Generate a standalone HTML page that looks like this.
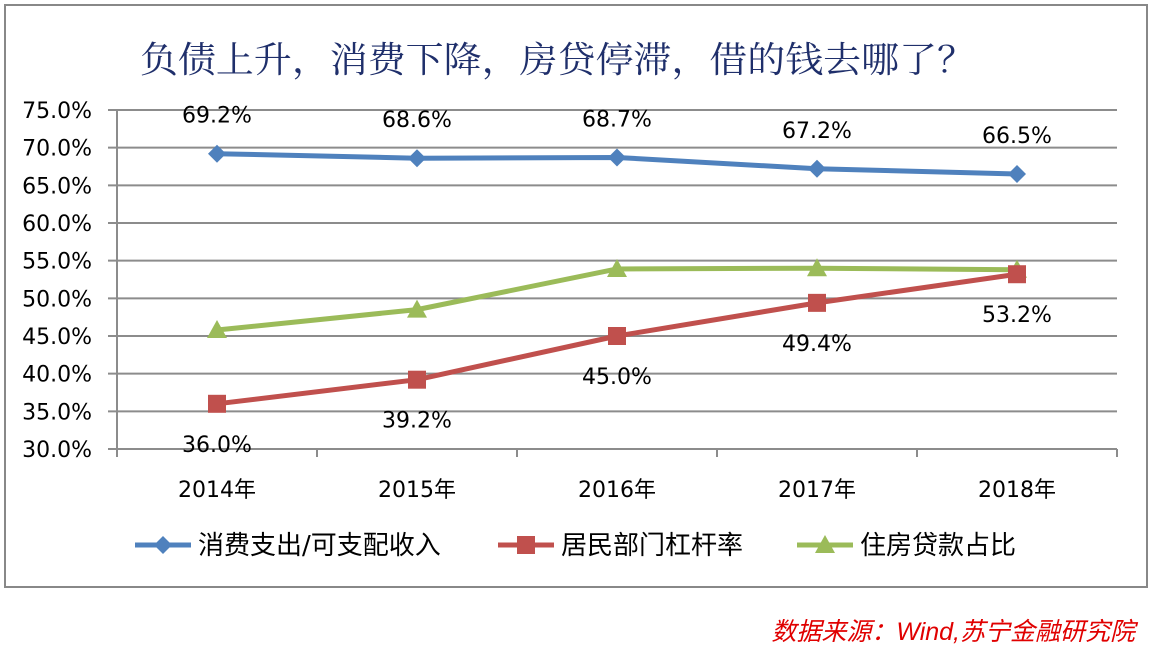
<!DOCTYPE html>
<html><head><meta charset="utf-8"><style>
html,body{margin:0;padding:0;background:#fff;}
svg{display:block;}
</style></head><body>
<svg id="chart" width="1152" height="650" xmlns="http://www.w3.org/2000/svg" font-family="'DejaVu Sans','Noto Sans CJK SC',sans-serif">
<rect x="5" y="5" width="1142" height="582" fill="#fff" stroke="#888" stroke-width="2"/>
<text x="140" y="72" font-family="'Noto Serif CJK SC',serif" font-size="36" fill="#1f2f6b" textLength="835" lengthAdjust="spacingAndGlyphs">负债上升，消费下降，房贷停滞，借的钱去哪了？</text>
<g id="grid"></g><g id="axes"></g><g id="series"></g><g id="legend"></g>
<text x="1135" y="640" text-anchor="end" font-size="25" font-style="italic" fill="#e00000" font-family="'Liberation Sans','Noto Sans CJK SC',sans-serif">数据来源：Wind,苏宁金融研究院</text>
</svg>
<script>
const categories=["2014年","2015年","2016年","2017年","2018年"];
const consumption=[69.2,68.6,68.7,67.2,66.5];
const leverage=[36.0,39.2,45.0,49.4,53.2];
const mortgage=[45.8,48.5,53.9,54.0,53.8];
const yTicks=[30,35,40,45,50,55,60,65,70,75];
const NS="http://www.w3.org/2000/svg";
const x0=117,bw=200,yTop=110,yBot=449,vMin=30,vMax=75;
function X(i){return x0+bw*(i+0.5);}
function Y(v){return yBot-(v-vMin)/(vMax-vMin)*(yBot-yTop);}
function mk(p,tag,at){const e=document.createElementNS(NS,tag);for(const k in at)e.setAttribute(k,at[k]);p.appendChild(e);return e;}
const grid=document.getElementById('grid'),axes=document.getElementById('axes'),ser=document.getElementById('series'),leg=document.getElementById('legend');
yTicks.forEach(t=>{
 const l=mk(grid,'line',{x1:108,x2:1117,y1:Y(t),y2:Y(t),stroke:'#8c8c8c','stroke-width':2});
 
 
 const tx=mk(axes,'text',{x:92,y:Y(t)+8,'text-anchor':'end','font-size':22,fill:'#000'});tx.textContent=t.toFixed(1)+'%';
 
 
});
const ya=mk(axes,'line',{x1:x0,x2:x0,y1:yTop,y2:yBot,stroke:'#8c8c8c','stroke-width':2});


for(let i=0;i<=categories.length;i++){
 const tk=mk(axes,'line',{x1:x0+bw*i,x2:x0+bw*i,y1:yBot,y2:yBot+8,stroke:'#8c8c8c','stroke-width':2});
 
 
}
categories.forEach((c,i)=>{const t=mk(axes,'text',{x:X(i),y:497,'text-anchor':'middle','font-size':22,fill:'#000'});t.textContent=c;
 
 });
function marker(p,type,x,y,col){
 if(type==='diamond')return mk(p,'polygon',{points:`${x},${y-9} ${x+9},${y} ${x},${y+9} ${x-9},${y}`,fill:col});
 if(type==='square')return mk(p,'rect',{x:x-9,y:y-9,width:18,height:18,fill:col});
 return mk(p,'polygon',{points:`${x},${y-10} ${x+10},${y+8} ${x-10},${y+8}`,fill:col});
}
function series(vals,col,type,name,labelOff){
 const g=mk(ser,'g',{});
 
 
 const pl=mk(g,'polyline',{points:vals.map((v,i)=>X(i)+','+Y(v)).join(' '),fill:'none',stroke:col,'stroke-width':5,'stroke-linejoin':'round'});
 
 
 vals.forEach((v,i)=>{const m=marker(g,type,X(i),Y(v),col);
  
  
  if(labelOff!==null){const t=mk(g,'text',{x:X(i),y:Y(v)+labelOff,'text-anchor':'middle','font-size':22,fill:'#000'});t.textContent=v.toFixed(1)+'%';
  
  }
 });
}
series(mortgage,'#9bbb59','triangle','mortgage-share',null);
series(leverage,'#c0504d','square','household-leverage',48);
series(consumption,'#4f81bd','diamond','consumption-ratio',-31);
const legItems=[["消费支出/可支配收入",'#4f81bd','diamond',135],["居民部门杠杆率",'#c0504d','square',498],["住房贷款占比",'#9bbb59','triangle',797]];
legItems.forEach(([lab,col,type,lx])=>{
 const g=mk(leg,'g',{});
 
 
 mk(g,'line',{x1:lx,x2:lx+56,y1:545,y2:545,stroke:col,'stroke-width':5});
 marker(g,type,lx+28,545,col);
 const t=mk(g,'text',{x:lx+63,y:554,'font-size':26,fill:'#000'});t.textContent=lab;
});
</script>
</body></html>
